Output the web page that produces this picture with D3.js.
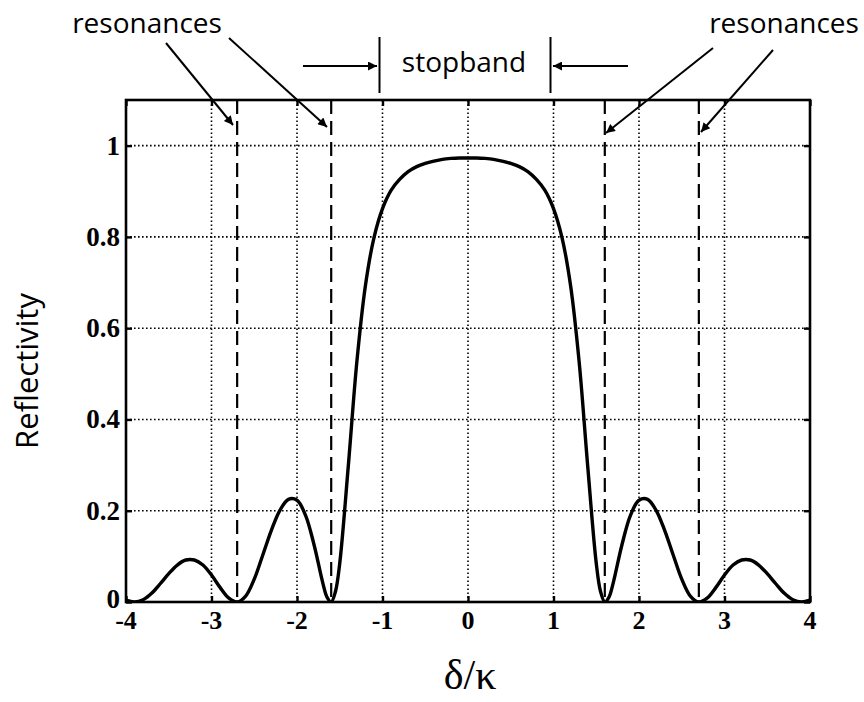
<html>
<head>
<script src="https://cdn.jsdelivr.net/npm/d3@7"></script>
<style>
  body { margin: 0; background: #fff; }
</style>
</head>
<body>
<svg width="864" height="702"></svg>
<script>

// values (normalised detuning, reflectivity)
var delta = [-4.0,-3.9,-3.8,-3.7,-3.6,-3.5,-3.4,-3.3,-3.2,-3.1,-3.0,-2.9,-2.8,-2.7,-2.6,-2.5,-2.4,-2.3,-2.2,-2.1,-2.0,-1.9,-1.8,-1.7,-1.65,-1.6,-1.55,-1.5,-1.4,-1.3,-1.2,-1.1,-1.0,-0.9,-0.8,-0.7,-0.6,-0.5,-0.4,-0.3,-0.2,-0.1,
             0.0,0.1,0.2,0.3,0.4,0.5,0.6,0.7,0.8,0.9,1.0,1.1,1.2,1.3,1.4,1.5,1.55,1.6,1.65,1.7,1.8,1.9,2.0,2.1,2.2,2.3,2.4,2.5,2.6,2.7,2.8,2.9,3.0,3.1,3.2,3.3,3.4,3.5,3.6,3.7,3.8,3.9,4.0]
var refl = [0.004,0.000,0.005,0.019,0.040,0.062,0.081,0.092,0.092,0.081,0.059,0.032,0.009,0.000,0.013,0.050,0.103,0.157,0.201,0.225,0.223,0.190,0.125,0.043,0.011,0.000,0.023,0.085,0.298,0.526,0.693,0.798,0.862,0.902,0.926,0.943,0.954,0.961,0.966,0.970,0.972,0.973,
            0.973,0.973,0.972,0.970,0.966,0.961,0.954,0.943,0.926,0.902,0.862,0.798,0.693,0.526,0.298,0.085,0.023,0.000,0.011,0.043,0.125,0.190,0.223,0.225,0.201,0.157,0.103,0.050,0.013,0.000,0.009,0.032,0.059,0.081,0.092,0.092,0.081,0.062,0.040,0.019,0.005,0.000,0.004]

var xTicks = [-4,-3,-2,-1,0,1,2,3,4]
var yTicks = [0,0.2,0.4,0.6,0.8,1]
var resonances = [-2.7,-1.6,1.6,2.7]
var stopband = [-1,1]

var svg = d3.select('svg')

var x = d3.scaleLinear().domain([-4,4]).range([126,810])
var y = d3.scaleLinear().domain([0,1.1]).range([602,100])

var defs = svg.append('defs')
defs.append('marker')
    .attr('id','head')
    .attr('viewBox','0 0 10 10')
    .attr('refX',10).attr('refY',5)
    .attr('markerWidth',13).attr('markerHeight',9)
    .attr('markerUnits','userSpaceOnUse')
    .attr('orient','auto')
    .append('path')
    .attr('d','M0,0 L10,5 L0,10 Z')
    .attr('fill','#000')
defs.append('clipPath').attr('id','plot')
    .append('rect')
    .attr('x',x(-4)).attr('y',y(1.1))
    .attr('width',x(4)-x(-4)).attr('height',y(0)-y(1.1))

// dotted grid
svg.selectAll('.vgrid')
    .data(xTicks.slice(1,-1))
    .enter()
    .append('line')
    .attr('x1',function(d){ return x(d) })
    .attr('x2',function(d){ return x(d) })
    .attr('y1',y(0)).attr('y2',y(1.1))
    .attr('stroke','#000')
    .attr('stroke-width',1.6)
    .attr('stroke-dasharray','1.6,2.4')

svg.selectAll('.hgrid')
    .data(yTicks.slice(1))
    .enter()
    .append('line')
    .attr('y1',function(d){ return y(d) })
    .attr('y2',function(d){ return y(d) })
    .attr('x1',x(-4)).attr('x2',x(4))
    .attr('stroke','#000')
    .attr('stroke-width',1.6)
    .attr('stroke-dasharray','1.6,2.4')

// dashed resonance lines
svg.selectAll('.res')
    .data(resonances)
    .enter()
    .append('line')
    .attr('x1',function(d){ return x(d) })
    .attr('x2',function(d){ return x(d) })
    .attr('y1',y(1.1)).attr('y2',y(0))
    .attr('stroke','#000')
    .attr('stroke-width',2.2)
    .attr('stroke-dasharray','14,7')

// the reflectivity curve
var pts = delta.map(function(d,i){ return [d, refl[i]] })
var line = d3.line()
    .x(function(d){ return x(d[0]) })
    .y(function(d){ return y(d[1]) })
    .curve(d3.curveCatmullRom.alpha(0.5))

svg.append('path')
    .datum(pts)
    .attr('d',line)
    .attr('fill','none')
    .attr('stroke','#000')
    .attr('stroke-width',3.4)
    .attr('stroke-linejoin','round')
    .attr('clip-path','url(#plot)')

// frame
svg.append('rect')
    .attr('x',x(-4)).attr('y',y(1.1))
    .attr('width',x(4)-x(-4)).attr('height',y(0)-y(1.1))
    .attr('fill','none')
    .attr('stroke','#000')
    .attr('stroke-width',2.6)

// small inward ticks on the frame
var xAxB = d3.axisBottom(x).tickValues(xTicks).tickSize(-6).tickFormat('')
var xAxT = d3.axisTop(x).tickValues(xTicks).tickSize(-6).tickFormat('')
var yAxL = d3.axisLeft(y).tickValues(yTicks).tickSize(-6).tickFormat('')
var yAxR = d3.axisRight(y).tickValues(yTicks).tickSize(-6).tickFormat('')
svg.append('g').attr('transform','translate(0,'+y(0)+')').call(xAxB)
svg.append('g').attr('transform','translate(0,'+y(1.1)+')').call(xAxT)
svg.append('g').attr('transform','translate('+x(-4)+',0)').call(yAxL)
svg.append('g').attr('transform','translate('+x(4)+',0)').call(yAxR)
svg.selectAll('.domain').remove()
svg.selectAll('.tick line').attr('stroke','#000').attr('stroke-width',2.4)

// tick labels
svg.selectAll('.xlab')
    .data(xTicks)
    .enter()
    .append('text')
    .attr('x',function(d){ return x(d) })
    .attr('y',629)
    .attr('text-anchor','middle')
    .attr('font-family','Liberation Serif, serif')
    .attr('font-weight','bold')
    .attr('font-size',26)
    .text(function(d){ return d })

svg.selectAll('.ylab')
    .data(yTicks)
    .enter()
    .append('text')
    .attr('x',x(-4)-6)
    .attr('y',function(d){ return d == 0 ? y(d) + 6 : y(d) + 9 })
    .attr('text-anchor','end')
    .attr('font-family','Liberation Serif, serif')
    .attr('font-weight','bold')
    .attr('font-size',27)
    .text(function(d){ return d })

// axis titles
svg.append('text')
    .attr('transform','translate(38,371) rotate(-90)')
    .attr('text-anchor','middle')
    .attr('font-family','Open Sans, sans-serif')
    .attr('font-size',31)
    .text('Reflectivity')

svg.append('text')
    .attr('x',470).attr('y',689)
    .attr('text-anchor','middle')
    .attr('font-family','Liberation Serif, serif')
    .attr('font-size',42)
    .text('δ/κ')

// annotations
var font = 'Open Sans, sans-serif'
svg.append('text').attr('x',147).attr('y',33).attr('text-anchor','middle')
    .attr('font-family',font).attr('font-size',28).text('resonances')
svg.append('text').attr('x',784).attr('y',33).attr('text-anchor','middle')
    .attr('font-family',font).attr('font-size',28).text('resonances')
svg.append('text').attr('x',464).attr('y',72).attr('text-anchor','middle')
    .attr('font-family',font).attr('font-size',28).text('stopband')

var arrows = [
    [166,43,233,125],
    [229,38,327,127],
    [713,48,606,133],
    [773,50,701,132],
    [303,66,377,66],
    [628,66,553,66]
]
svg.selectAll('.arrow')
    .data(arrows)
    .enter()
    .append('line')
    .attr('x1',function(d){ return d[0] })
    .attr('y1',function(d){ return d[1] })
    .attr('x2',function(d){ return d[2] })
    .attr('y2',function(d){ return d[3] })
    .attr('stroke','#000')
    .attr('stroke-width',2)
    .attr('marker-end','url(#head)')

// stopband edges
svg.selectAll('.edge')
    .data(stopband)
    .enter()
    .append('line')
    .attr('x1',function(d){ return x(d) - 3 })
    .attr('x2',function(d){ return x(d) - 3 })
    .attr('y1',37).attr('y2',93)
    .attr('stroke','#000')
    .attr('stroke-width',2)

</script>
</body>
</html>
